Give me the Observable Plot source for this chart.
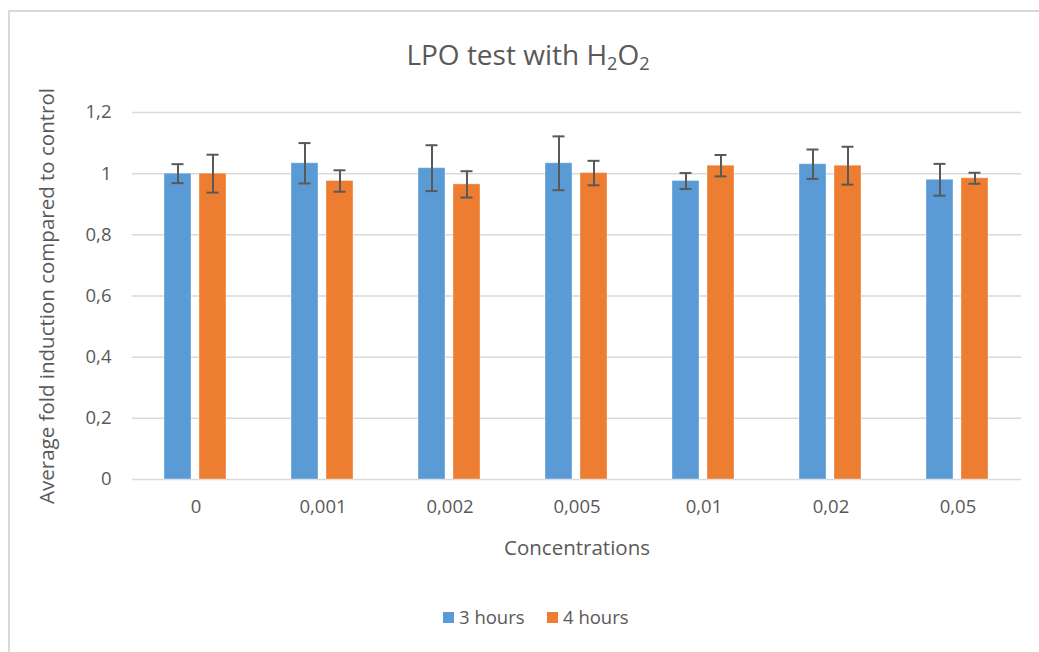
<!DOCTYPE html>
<html>
<head>
<meta charset="utf-8">
<script src="https://cdn.jsdelivr.net/npm/d3@7"></script>
<script src="https://cdn.jsdelivr.net/npm/@observablehq/plot@0.6"></script>
<style>
  html, body { margin: 0; padding: 0; background: #fff; }
  #wrap { position: relative; width: 1039px; height: 652px; overflow: hidden; font-family: "Open Sans", sans-serif; color: #595959; }
  #frame { position: absolute; left: 8px; top: 10px; width: 1060px; height: 680px; border: 2px solid #d9d9d9; box-sizing: border-box; }
  #title { position: absolute; left: 0; top: 0; width: 1039px; height: 80px; text-align: center; }
  #title span { position: absolute; left: 528px; top: 56px; transform: translate(-50%, -50%); font-size: 28px; white-space: nowrap; line-height: 1; }
  #chart { position: absolute; left: 0; top: 80px; }
  #legend { position: absolute; top: 604px; left: 0; width: 1039px; font-size: 18.5px; }
  .item { position: absolute; top: 0; white-space: nowrap; }
  .sw { display: inline-block; width: 11px; height: 11px; margin-right: 5px; vertical-align: 1px; }
</style>
</head>
<body>
<div id="wrap">
  <div id="frame"></div>
  <div id="title"><span>LPO test with H<sub style="font-size:65%;vertical-align:-5px">2</sub>O<sub style="font-size:65%;vertical-align:-5px">2</sub></span></div>
  <div id="chart"></div>
  <div id="legend"></div>
</div>
<script>
const concentrations = ["0", "0,001", "0,002", "0,005", "0,01", "0,02", "0,05"];
const seriesNames = ["3 hours", "4 hours"];
const seriesColors = ["#5B9BD5", "#ED7D31"];
const hours3 = [1.000, 1.034, 1.018, 1.034, 0.976, 1.031, 0.980];
const hours3Err = [0.031, 0.066, 0.075, 0.088, 0.026, 0.048, 0.052];
const hours4 = [1.000, 0.976, 0.965, 1.002, 1.026, 1.026, 0.985];
const hours4Err = [0.062, 0.035, 0.043, 0.040, 0.035, 0.062, 0.018];
const yTicks = [0, 0.2, 0.4, 0.6, 0.8, 1.0, 1.2];

const data = [];
concentrations.forEach((c, i) => {
  data.push({conc: c, series: seriesNames[0], value: hours3[i], err: hours3Err[i]});
  data.push({conc: c, series: seriesNames[1], value: hours4[i], err: hours4Err[i]});
});

const fmt = d => String(+d.toFixed(1)).replace(".", ",");

const plot = Plot.plot({
  width: 1039,
  height: 500,
  marginTop: 32,
  marginBottom: 101,
  marginLeft: 131,
  marginRight: 17,
  style: {fontFamily: "Open Sans, sans-serif", fontSize: "18.5px", color: "#595959", background: "transparent"},
  fx: {domain: concentrations, padding: 0, label: null},
  x: {domain: seriesNames, paddingInner: 0.22, paddingOuter: 0.88, axis: null},
  y: {domain: [0, 1.2], axis: null},
  color: {domain: seriesNames, range: seriesColors},
  marks: [
    Plot.gridY(yTicks, {stroke: "#d9d9d9", strokeOpacity: 1, strokeWidth: 1.5}),
    Plot.barY(data, {fx: "conc", x: "series", y: "value", fill: "series", stroke: "#ffffff", strokeOpacity: 0.35, strokeWidth: 1}),
    Plot.ruleX(data, {fx: "conc", x: "series", y1: d => d.value - d.err, y2: d => d.value + d.err, stroke: "#595959", strokeWidth: 2}),
    Plot.tickY(data, {fx: "conc", x: "series", y: d => d.value - d.err, stroke: "#595959", strokeWidth: 2, insetLeft: 7.5, insetRight: 7.5}),
    Plot.tickY(data, {fx: "conc", x: "series", y: d => d.value + d.err, stroke: "#595959", strokeWidth: 2, insetLeft: 7.5, insetRight: 7.5}),
    Plot.axisY({ticks: yTicks, tickFormat: fmt, tickSize: 0, tickPadding: 21, label: "Average fold induction compared to control", labelAnchor: "center", labelArrow: "none", labelOffset: 93}),
    Plot.axisFx({anchor: "bottom", tickSize: 0, tickPadding: 20, label: "Concentrations", labelAnchor: "center", labelArrow: "none", labelOffset: 75}),
  ]
});
document.getElementById("chart").appendChild(plot);

d3.select(plot).selectAll('[aria-label="y-axis label"], [aria-label="fx-axis label"]').style("font-size", "20.5px");

const legend = document.getElementById("legend");
const legendX = [443, 547];
seriesNames.forEach((s, i) => {
  const it = document.createElement("div");
  it.className = "item";
  it.style.left = legendX[i] + "px";
  it.innerHTML = `<span class="sw" style="background:${seriesColors[i]}"></span>${s}`;
  legend.appendChild(it);
});
</script>
</body>
</html>
